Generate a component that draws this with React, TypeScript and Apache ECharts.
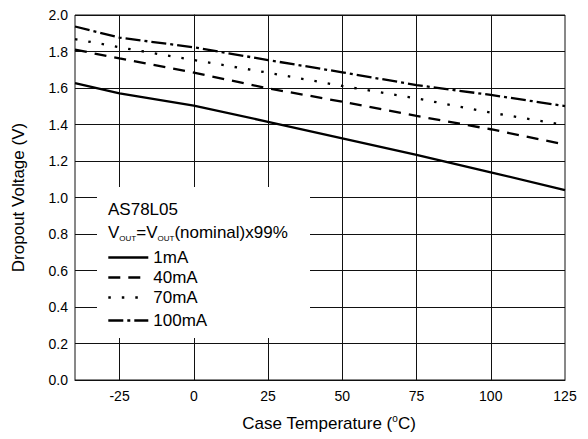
import React, { useEffect, useRef } from "react";
import * as echarts from "echarts";

const temps = [-40, -25, 0, 25, 50, 75, 100, 125];
const gridTicks = [-25, 0, 25, 50, 75, 100];
const xLabelValues = [-25, 0, 25, 50, 75, 100, 125];
const seriesNames = ["1mA", "40mA", "70mA", "100mA"];
const v1mA = [1.627, 1.571, 1.503, 1.415, 1.324, 1.233, 1.138, 1.041];
const v40mA = [1.81, 1.762, 1.684, 1.598, 1.525, 1.447, 1.374, 1.29];
const v70mA = [1.868, 1.823, 1.753, 1.684, 1.611, 1.543, 1.465, 1.397];
const v100mA = [1.937, 1.876, 1.823, 1.753, 1.686, 1.616, 1.562, 1.501];
const seriesValues = [v1mA, v40mA, v70mA, v100mA];
const chipName = "AS78L05";

const FONT = "Liberation Sans";
const dashes: any[] = ["solid", [12, 8], [2.5, 11], [15, 4, 3, 4]];
const legendTops = [249, 269, 289, 312];

export default function App() {
  const ref = useRef<HTMLDivElement>(null);
  useEffect(() => {
    if (!ref.current) return;
    const chart = echarts.init(ref.current, undefined, { renderer: "svg" });
    const series: any[] = seriesNames.map((name, i) => ({
      name,
      type: "line",
      data: temps.map((t, j) => [t, seriesValues[i][j]]),
      symbol: "none",
      showSymbol: false,
      lineStyle: { color: "#000", width: 2.3, type: dashes[i], cap: "butt" },
      itemStyle: { color: "#000" },
      z: 3,
    }));
    series[0].markLine = {
      silent: true,
      symbol: "none",
      label: { show: false },
      lineStyle: { color: "#111", width: 1, type: "solid" },
      data: gridTicks.map((t) => ({ xAxis: t })),
      z: 1,
    };
    chart.setOption({
      animation: false,
      textStyle: { fontFamily: FONT },
      grid: {
        left: 75,
        right: 23,
        top: 15,
        bottom: 59,
        show: true,
        borderColor: "#111",
        borderWidth: 1,
        containLabel: false,
      },
      xAxis: {
        type: "value",
        min: -40,
        max: 125,
        interval: 5,
        name: "{a|Case Temperature (}{sup|o}{a|C)}",
        nameLocation: "middle",
        nameGap: 33,
        nameTextStyle: {
          fontSize: 17,
          color: "#000",
          fontFamily: FONT,
          padding: [0, 0, 0, 18],
          rich: {
            a: { fontSize: 17, lineHeight: 20, verticalAlign: "middle", fontFamily: FONT, color: "#000" },
            sup: { fontSize: 10, lineHeight: 10, verticalAlign: "top", fontFamily: FONT, color: "#000" },
          },
        },
        axisLine: { show: true, lineStyle: { color: "#111" } },
        axisTick: { show: false },
        splitLine: { show: false },
        axisLabel: {
          color: "#000",
          fontSize: 14,
          margin: 9,
          fontFamily: FONT,
          formatter: (v: number) => (xLabelValues.indexOf(v) >= 0 ? String(v) : ""),
        },
      },
      yAxis: {
        type: "value",
        min: 0,
        max: 2,
        interval: 0.2,
        name: "Dropout Voltage (V)",
        nameLocation: "middle",
        nameGap: 48,
        nameTextStyle: { fontSize: 17, color: "#000", fontFamily: FONT },
        axisLine: { show: true, lineStyle: { color: "#111" } },
        axisTick: { show: false },
        splitLine: { show: true, lineStyle: { color: "#111", width: 1 } },
        axisLabel: {
          color: "#000",
          fontSize: 14,
          margin: 7,
          fontFamily: FONT,
          formatter: (v: number) => v.toFixed(1),
        },
      },
      legend: seriesNames.map((name, i) => ({
        data: [name],
        left: 107,
        top: legendTops[i],
        padding: 0,
        itemWidth: 40,
        itemHeight: 18,
        selectedMode: false,
        z: 60,
        itemStyle: { opacity: 0 },
        lineStyle: { width: 2.6 },
        textStyle: { fontSize: 17, color: "#000", fontFamily: FONT },
      })),
      graphic: [
        {
          type: "rect",
          z: 50,
          shape: { x: 97, y: 187, width: 213, height: 151 },
          style: { fill: "#fff" },
        },
        {
          type: "text",
          z: 55,
          x: 108,
          y: 209,
          style: {
            text: chipName,
            fontSize: 17,
            fontFamily: FONT,
            fill: "#000",
            verticalAlign: "middle",
          },
        },
        {
          type: "text",
          z: 55,
          x: 108,
          y: 232,
          style: {
            text: "{n|V}{s|OUT}{n|=V}{s|OUT}{n|(nominal)x99%}",
            fontSize: 17,
            fontFamily: FONT,
            fill: "#000",
            verticalAlign: "middle",
            rich: {
              n: { fontSize: 17, fontFamily: FONT, fill: "#000", lineHeight: 20, verticalAlign: "middle" },
              s: { fontSize: 8, fontFamily: FONT, fill: "#000", lineHeight: 8, verticalAlign: "bottom" },
            },
          },
        },
      ],
      series,
    });
    return () => chart.dispose();
  }, []);
  return (
    <div
      ref={ref}
      style={{ position: "fixed", left: 0, top: 0, width: 588, height: 439, background: "#fff" }}
    />
  );
}
